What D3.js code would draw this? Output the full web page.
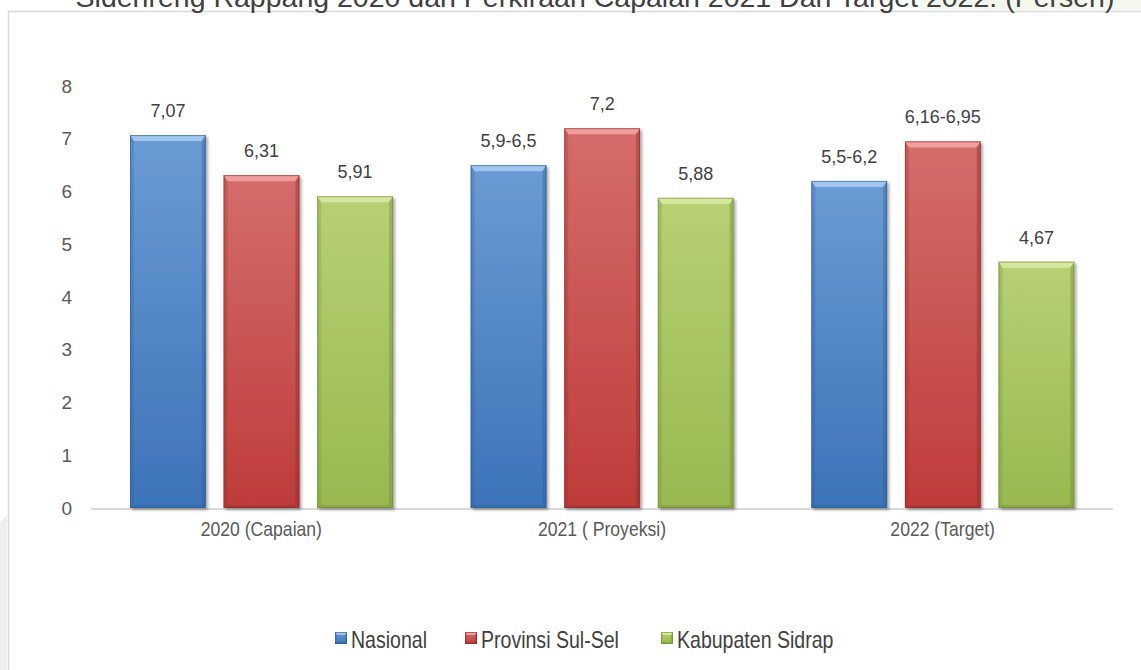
<!DOCTYPE html>
<html>
<head>
<meta charset="utf-8">
<script src="https://cdn.jsdelivr.net/npm/d3@7"></script>
<style>
  html, body { margin: 0; padding: 0; background: #ffffff; }
  svg { display: block; }
</style>
</head>
<body>
<script>
// ---- data ----
const categories = ["2020 (Capaian)", "2021 ( Proyeksi)", "2022 (Target)"];
const seriesNames = ["Nasional", "Provinsi Sul-Sel", "Kabupaten Sidrap"];
const nasional = [7.07, 6.5, 6.2];
const provinsi = [6.31, 7.2, 6.95];
const kabupaten = [5.91, 5.88, 4.67];
const nasionalLabels = ["7,07", "5,9-6,5", "5,5-6,2"];
const provinsiLabels = ["6,31", "7,2", "6,16-6,95"];
const kabupatenLabels = ["5,91", "5,88", "4,67"];
const yTicks = [0, 1, 2, 3, 4, 5, 6, 7, 8];
const titleText = "Sidenreng Rappang 2020 dan Perkiraan Capaian 2021 Dan Target 2022. (Persen)";

const seriesValues = [nasional, provinsi, kabupaten];
const seriesLabels = [nasionalLabels, provinsiLabels, kabupatenLabels];

const W = 1141, H = 670;
const svg = d3.select("body").append("svg").attr("width", W).attr("height", H);

// colour sets
const pal = [
  {top: "#6b9bd4", bot: "#3d73b8", hi: "#a9cdf2", edge: "#2f5d96"},
  {top: "#d46d6b", bot: "#be3c3a", hi: "#f2a7a5", edge: "#8f2a29"},
  {top: "#b7d074", bot: "#97b94f", hi: "#dcebaa", edge: "#6f8a35"}
];

const defs = svg.append("defs");
pal.forEach((p, i) => {
  const g = defs.append("linearGradient").attr("id", "grad" + i)
    .attr("x1", 0).attr("y1", 0).attr("x2", 0).attr("y2", 1);
  g.append("stop").attr("offset", "0%").attr("stop-color", p.top);
  g.append("stop").attr("offset", "100%").attr("stop-color", p.bot);
});
const f = defs.append("filter").attr("id", "shadow").attr("x", "-10%").attr("y", "-10%").attr("width", "130%").attr("height", "130%");
f.append("feDropShadow").attr("dx", 2).attr("dy", 2).attr("stdDeviation", 1.6).attr("flood-color", "#000").attr("flood-opacity", 0.35);

// faint page decorations
svg.append("polygon").attr("points", "0,522 7,515 7,670 0,670").attr("fill", "#efefef");
svg.append("rect").attr("x", 920).attr("y", 0).attr("width", 221).attr("height", 10).attr("fill", "#f3f8ef");

// chart frame
svg.append("path").attr("d", "M8.5,670 L8.5,11.5 L1141,11.5").attr("fill", "none").attr("stroke", "#d9d9d9").attr("stroke-width", 1.5);

// title (clipped at top, as in the source)
svg.append("text").attr("x", 595).attr("y", 7).attr("text-anchor", "middle")
  .attr("font-family", "Liberation Sans, Arial, sans-serif").attr("font-size", 28.5)
  .attr("fill", "#404040").text(titleText);

// scales
const x0 = d3.scaleBand().domain(categories).range([91, 1113]).paddingInner(0).paddingOuter(0);
const x1 = d3.scaleBand().domain(seriesNames).range([39, 302]).paddingInner(0.19);
const y = d3.scaleLinear().domain([0, 8]).range([508, 86]);

// y axis
const yAxis = svg.append("g").attr("transform", "translate(72,0)")
  .call(d3.axisLeft(y).tickValues(yTicks).tickSize(0).tickPadding(0).tickFormat(d3.format("d")));
yAxis.select(".domain").remove();
yAxis.selectAll("text").attr("font-family", "Liberation Sans, Arial, sans-serif")
  .attr("font-size", 19).attr("fill", "#595959");

// baseline
svg.append("line").attr("x1", 91).attr("x2", 1113).attr("y1", y(0) + 1).attr("y2", y(0) + 1)
  .attr("stroke", "#d9d9d9").attr("stroke-width", 2);

// x axis labels (condensed)
const xAxis = svg.append("g").attr("transform", `translate(0,${y(0)})`)
  .call(d3.axisBottom(x0).tickSize(0).tickPadding(14));
xAxis.select(".domain").remove();
xAxis.selectAll("text").attr("font-family", "Liberation Sans, Arial, sans-serif")
  .attr("font-size", 20).attr("fill", "#595959").attr("dy", "0.71em")
  .attr("transform", "scale(0.88,1)");

// bars
function bevelBar(g, x, yTop, w, h, p, i, small) {
  const b = small ? 3 : 6, s = small ? 2 : 4, bb = small ? 2 : 3;
  g.append("rect").attr("x", x).attr("y", yTop).attr("width", w).attr("height", h)
    .attr("fill", `url(#grad${i})`).attr("filter", small ? null : "url(#shadow)");
  g.append("polygon").attr("points", `${x},${yTop} ${x + w},${yTop} ${x + w - s},${yTop + b} ${x + s},${yTop + b}`)
    .attr("fill", p.hi).attr("opacity", 0.85);
  g.append("polygon").attr("points", `${x},${yTop} ${x + s},${yTop + b} ${x + s},${yTop + h - bb} ${x},${yTop + h}`)
    .attr("fill", p.edge).attr("opacity", 0.25);
  g.append("polygon").attr("points", `${x + w},${yTop} ${x + w - s},${yTop + b} ${x + w - s},${yTop + h - bb} ${x + w},${yTop + h}`)
    .attr("fill", p.edge).attr("opacity", 0.4);
  g.append("polygon").attr("points", `${x},${yTop + h} ${x + s},${yTop + h - bb} ${x + w - s},${yTop + h - bb} ${x + w},${yTop + h}`)
    .attr("fill", p.edge).attr("opacity", 0.35);
  g.append("rect").attr("x", x + 0.5).attr("y", yTop + 0.5).attr("width", w - 1).attr("height", h - 1)
    .attr("fill", "none").attr("stroke", p.edge).attr("stroke-width", 1).attr("opacity", 0.6);
}

const gBars = svg.append("g");
seriesValues.forEach((vals, si) => {
  vals.forEach((v, ci) => {
    const bx = x0(categories[ci]) + x1(seriesNames[si]);
    const bw = x1.bandwidth();
    const g = gBars.append("g");
    bevelBar(g, bx, y(v), bw, y(0) - y(v), pal[si], si, false);
    svg.append("text").attr("x", bx + bw / 2).attr("y", y(v) - 18).attr("text-anchor", "middle")
      .attr("font-family", "Liberation Sans, Arial, sans-serif").attr("font-size", 18)
      .attr("fill", "#404040").text(seriesLabels[si][ci]);
  });
});

// legend (condensed text)
const legendX = [335, 465, 661];
const lg = svg.append("g");
seriesNames.forEach((n, i) => {
  const g = lg.append("g").attr("transform", `translate(${legendX[i]},632)`);
  bevelBar(g, 0, 0, 12, 12, pal[i], i, true);
  g.append("g").attr("transform", "translate(16,15.5) scale(0.85,1)")
    .append("text").attr("x", 0).attr("y", 0)
    .attr("font-family", "Liberation Sans, Arial, sans-serif")
    .attr("font-size", 23).attr("fill", "#404040").text(n);
});
</script>
</body>
</html>
